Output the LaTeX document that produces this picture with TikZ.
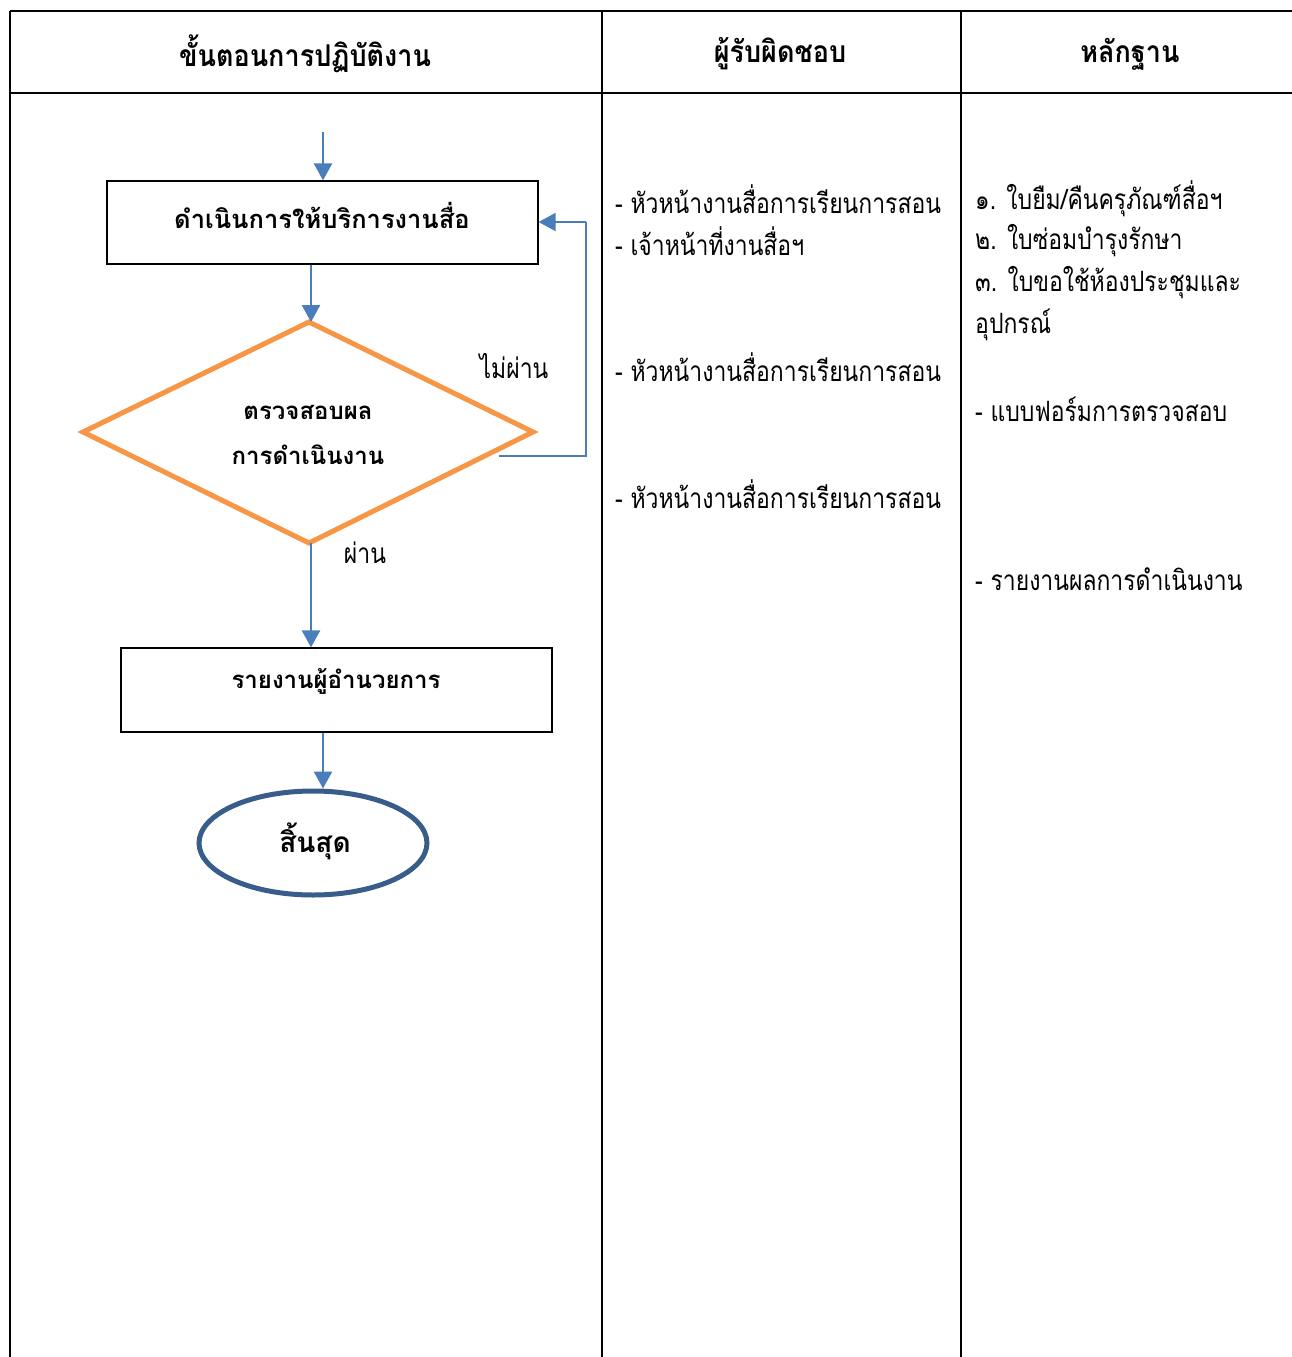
\documentclass[tikz,border=0pt]{standalone}
\usepackage{fontspec}
\setmainfont[Script=Thai]{Loma}
\newfontfamily\thaiN[Script=Thai,FakeStretch=0.82]{Loma}
\newfontfamily\thaiH[Script=Thai,FakeStretch=0.9]{Loma}
\usetikzlibrary{arrows.meta,shapes.geometric}
\definecolor{flowblue}{HTML}{4A7EBB}
\definecolor{flowor}{HTML}{F79646}
\definecolor{enddark}{HTML}{385D8A}
\tikzset{
  grid/.style={line width=2pt,black},
  procbox/.style={draw=black,line width=1.2pt,inner sep=0pt},
  boldtxt/.style={font=\fontsize{25.5}{30}\selectfont\bfseries,inner sep=0pt},
  smallbold/.style={font=\fontsize{24}{28}\selectfont\bfseries,inner sep=0pt},
  headtxt/.style={font=\thaiH\fontsize{30}{34}\selectfont\bfseries,inner sep=0pt},
  bodytxt/.style={font=\thaiN\fontsize{28}{32}\selectfont,inner sep=0pt,anchor=west},
  flowarrow/.style={draw=flowblue,line width=2.6pt,-{Triangle[width=18pt,length=17pt]}},
  loopline/.style={draw=flowblue,line width=1.8pt},
}
\begin{document}
\begin{tikzpicture}[x=1pt,y=-1pt]
\useasboundingbox (0,0) rectangle (1292,1357);
% table
\draw[grid] (10,11) -- (1292,11);
\draw[grid] (10,93) -- (1292,93);
\draw[grid] (10,11) -- (10,1357);
\draw[grid] (602,11) -- (602,1357);
\draw[grid] (961,11) -- (961,1357);
\node[headtxt] (h1) at (305,54) {ขั้นตอนการปฏิบัติงาน};
\node[headtxt] (h2) at (780,54) {ผู้รับผิดชอบ};
\node[headtxt] (h3) at (1130,54) {หลักฐาน};
% flow
\coordinate (start) at (323,132);
\node[procbox,minimum width=431pt,minimum height=83pt] (b1) at (322.5,222.5) {};
\node[boldtxt] (b1t) at (322,215) {ดำเนินการให้บริการงานสื่อ};
\coordinate (dT) at (309,322);
\coordinate (dL) at (83,432);
\coordinate (dR) at (533,432);
\coordinate (dB) at (309,543);
\draw[flowor,line width=5pt,line join=miter] (dT) -- (dR) -- (dB) -- (dL) -- cycle;
\node[smallbold] (d1) at (308,412) {ตรวจสอบผล};
\node[smallbold] (d2) at (308,455) {การดำเนินงาน};
\node[procbox,minimum width=431pt,minimum height=84pt] (b2) at (336.5,690) {};
\node[smallbold] (b2t) at (336,681) {รายงานผู้อำนวยการ};
\node[draw=enddark,line width=5pt,ellipse,minimum width=228pt,minimum height=104pt,inner sep=0pt] (end) at (313,843) {};
\node[font=\fontsize{28}{32}\selectfont\bfseries,inner sep=0pt] (endt) at (315,841) {สิ้นสุด};
\coordinate (loopS) at (499,456);
\coordinate (loopC) at (586,456);
\draw[flowarrow] (start) -- (start |- b1.north);
\draw[flowarrow] (b1.south -| 311,0) -- (dT -| 311,0);
\draw[flowarrow] (dB -| 311,0) -- (b2.north -| 311,0);
\draw[flowarrow] (b2.south -| 323,0) -- (end.north -| 323,0);
\draw[loopline] (loopS) -- (loopC) -- (loopC |- 0,222);
\draw[flowarrow,line width=1.8pt] (586,222) -- (b1.east |- 0,222);
\node[font=\thaiN\fontsize{28}{32}\selectfont,inner sep=0pt] (no) at (514,366) {ไม่ผ่าน};
\node[font=\thaiN\fontsize{28}{32}\selectfont,inner sep=0pt] (yes) at (365,553) {ผ่าน};
% responsible
\node[bodytxt] (r1) at (615,199) {- หัวหน้างานสื่อการเรียนการสอน};
\node[bodytxt] (r2) at (615,241) {- เจ้าหน้าที่งานสื่อฯ};
\node[bodytxt] (r3) at (615,367) {- หัวหน้างานสื่อการเรียนการสอน};
\node[bodytxt] (r4) at (615,494) {- หัวหน้างานสื่อการเรียนการสอน};
% evidence
\node[bodytxt] (e1) at (975,199) {๑. ใบยืม/คืนครุภัณฑ์สื่อฯ};
\node[bodytxt] (e2) at (975,241) {๒. ใบซ่อมบำรุงรักษา};
\node[bodytxt] (e3) at (975,283) {๓. ใบขอใช้ห้องประชุมและ};
\node[bodytxt] (e4) at (975,325) {อุปกรณ์};
\node[bodytxt] (e5) at (975,409) {- แบบฟอร์มการตรวจสอบ};
\node[bodytxt] (e6) at (975,579) {- รายงานผลการดำเนินงาน};
\end{tikzpicture}
\end{document}
